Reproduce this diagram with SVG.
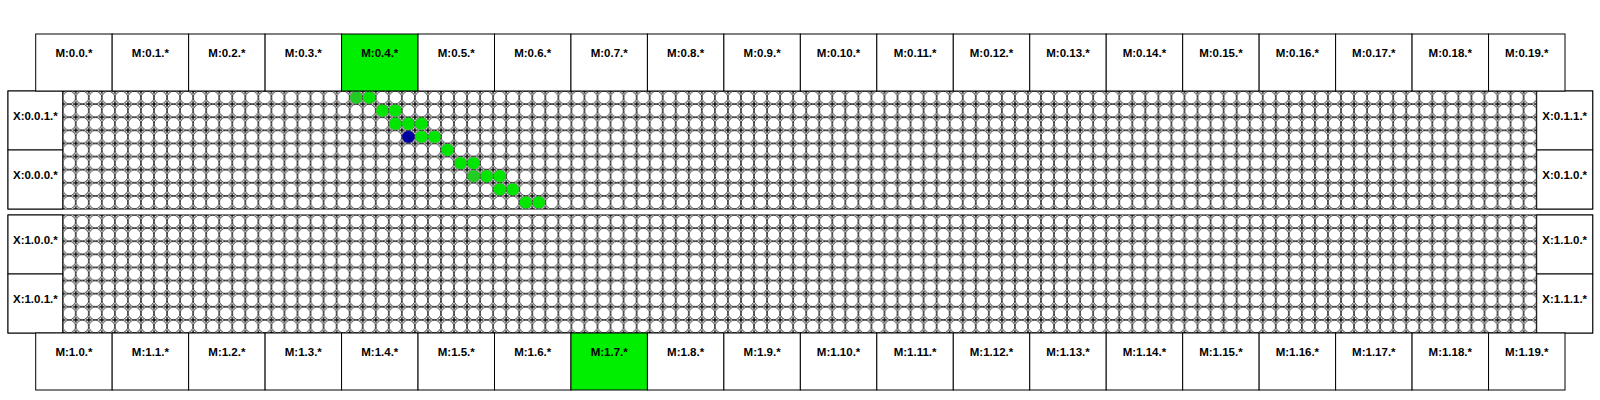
<svg xmlns="http://www.w3.org/2000/svg" width="1600" height="400" viewBox="0 0 1600 400">
<defs>
<style>
.box{fill:#ffffff;stroke:#000000;stroke-width:1}
.hot{fill:#00ee00;stroke:#000000;stroke-width:1}
.lbl{font-family:"Liberation Sans",Arial,sans-serif;font-size:11.5px;font-weight:bold;fill:#000000;text-anchor:middle}
.g{fill:#00e600;stroke:none}
.gd{fill:#22cc22;stroke:none}
.b{fill:#0000a0;stroke:none}
</style>
<pattern id="cellsTop" patternUnits="userSpaceOnUse" x="62.7" y="91" width="13.044" height="13.111">
<rect width="13.044" height="13.111" fill="#ffffff"/>
<circle cx="6.522" cy="6.556" r="6.4" fill="#ffffff" stroke="#000000" stroke-width="0.8"/>
<path d="M0,0H2.6M0,0V2.6M13.044,0H10.444M13.044,0V2.6M0,13.111H2.6M0,13.111V10.511M13.044,13.111H10.444M13.044,13.111V10.511" stroke="#000000" stroke-width="1.4" fill="none"/>
</pattern>
<pattern id="cellsBot" patternUnits="userSpaceOnUse" x="62.7" y="215" width="13.044" height="13.111">
<rect width="13.044" height="13.111" fill="#ffffff"/>
<circle cx="6.522" cy="6.556" r="6.4" fill="#ffffff" stroke="#000000" stroke-width="0.8"/>
<path d="M0,0H2.6M0,0V2.6M13.044,0H10.444M13.044,0V2.6M0,13.111H2.6M0,13.111V10.511M13.044,13.111H10.444M13.044,13.111V10.511" stroke="#000000" stroke-width="1.4" fill="none"/>
</pattern>
</defs>
<rect width="1600" height="400" fill="#ffffff"/>

<g id="panel0">
<rect class="box" x="8" y="91" width="1584.7" height="118"/>
<rect x="62.7" y="91" width="1474" height="118" fill="url(#cellsTop)"/>
<g id="X-0-0-1"><rect class="box" x="8" y="91" width="54.7" height="59"/><text class="lbl" x="35.35" y="120">X:0.0.1.*</text></g>
<g id="X-0-0-0"><rect class="box" x="8" y="150" width="54.7" height="59"/><text class="lbl" x="35.35" y="179">X:0.0.0.*</text></g>
<g id="X-0-1-1"><rect class="box" x="1536.7" y="91" width="56" height="59"/><text class="lbl" x="1564.7" y="120">X:0.1.1.*</text></g>
<g id="X-0-1-0"><rect class="box" x="1536.7" y="150" width="56" height="59"/><text class="lbl" x="1564.7" y="179">X:0.1.0.*</text></g>
<g id="path0">
<circle class="gd" cx="356.19" cy="97.56" r="6.2"/>
<circle class="g" cx="369.24" cy="97.56" r="6.2"/>
<circle class="g" cx="382.28" cy="110.67" r="6.2"/>
<circle class="g" cx="395.32" cy="110.67" r="6.2"/>
<circle class="g" cx="395.32" cy="123.78" r="6.2"/>
<circle class="g" cx="408.37" cy="123.78" r="6.2"/>
<circle class="g" cx="421.41" cy="123.78" r="6.2"/>
<circle class="b" cx="408.37" cy="136.89" r="6.2"/>
<circle class="g" cx="421.41" cy="136.89" r="6.2"/>
<circle class="g" cx="434.46" cy="136.89" r="6.2"/>
<circle class="g" cx="447.50" cy="150.00" r="6.2"/>
<circle class="g" cx="460.54" cy="163.11" r="6.2"/>
<circle class="g" cx="473.59" cy="163.11" r="6.2"/>
<circle class="gd" cx="473.59" cy="176.22" r="6.2"/>
<circle class="g" cx="486.63" cy="176.22" r="6.2"/>
<circle class="g" cx="499.68" cy="176.22" r="6.2"/>
<circle class="g" cx="499.68" cy="189.33" r="6.2"/>
<circle class="g" cx="512.72" cy="189.33" r="6.2"/>
<circle class="g" cx="525.76" cy="202.44" r="6.2"/>
<circle class="g" cx="538.81" cy="202.44" r="6.2"/>
</g>
</g>

<g id="panel1">
<rect class="box" x="8" y="215" width="1584.7" height="118"/>
<rect x="62.7" y="215" width="1474" height="118" fill="url(#cellsBot)"/>
<g id="X-1-0-0"><rect class="box" x="8" y="215" width="54.7" height="59"/><text class="lbl" x="35.35" y="244">X:1.0.0.*</text></g>
<g id="X-1-0-1"><rect class="box" x="8" y="274" width="54.7" height="59"/><text class="lbl" x="35.35" y="303">X:1.0.1.*</text></g>
<g id="X-1-1-0"><rect class="box" x="1536.7" y="215" width="56" height="59"/><text class="lbl" x="1564.7" y="244">X:1.1.0.*</text></g>
<g id="X-1-1-1"><rect class="box" x="1536.7" y="274" width="56" height="59"/><text class="lbl" x="1564.7" y="303">X:1.1.1.*</text></g>
</g>

<g id="mem0">
<g id="M-0-0"><rect class="box" x="35.7" y="34" width="76.465" height="57"/><text class="lbl" x="73.93" y="56.5">M:0.0.*</text></g>
<g id="M-0-1"><rect class="box" x="112.17" y="34" width="76.465" height="57"/><text class="lbl" x="150.40" y="56.5">M:0.1.*</text></g>
<g id="M-0-2"><rect class="box" x="188.63" y="34" width="76.465" height="57"/><text class="lbl" x="226.86" y="56.5">M:0.2.*</text></g>
<g id="M-0-3"><rect class="box" x="265.10" y="34" width="76.465" height="57"/><text class="lbl" x="303.33" y="56.5">M:0.3.*</text></g>
<g id="M-0-4"><rect class="hot" x="341.56" y="34" width="76.465" height="57"/><text class="lbl" x="379.79" y="56.5">M:0.4.*</text></g>
<g id="M-0-5"><rect class="box" x="418.03" y="34" width="76.465" height="57"/><text class="lbl" x="456.26" y="56.5">M:0.5.*</text></g>
<g id="M-0-6"><rect class="box" x="494.49" y="34" width="76.465" height="57"/><text class="lbl" x="532.72" y="56.5">M:0.6.*</text></g>
<g id="M-0-7"><rect class="box" x="570.96" y="34" width="76.465" height="57"/><text class="lbl" x="609.19" y="56.5">M:0.7.*</text></g>
<g id="M-0-8"><rect class="box" x="647.42" y="34" width="76.465" height="57"/><text class="lbl" x="685.65" y="56.5">M:0.8.*</text></g>
<g id="M-0-9"><rect class="box" x="723.89" y="34" width="76.465" height="57"/><text class="lbl" x="762.12" y="56.5">M:0.9.*</text></g>
<g id="M-0-10"><rect class="box" x="800.35" y="34" width="76.465" height="57"/><text class="lbl" x="838.58" y="56.5">M:0.10.*</text></g>
<g id="M-0-11"><rect class="box" x="876.82" y="34" width="76.465" height="57"/><text class="lbl" x="915.05" y="56.5">M:0.11.*</text></g>
<g id="M-0-12"><rect class="box" x="953.28" y="34" width="76.465" height="57"/><text class="lbl" x="991.51" y="56.5">M:0.12.*</text></g>
<g id="M-0-13"><rect class="box" x="1029.75" y="34" width="76.465" height="57"/><text class="lbl" x="1067.98" y="56.5">M:0.13.*</text></g>
<g id="M-0-14"><rect class="box" x="1106.21" y="34" width="76.465" height="57"/><text class="lbl" x="1144.44" y="56.5">M:0.14.*</text></g>
<g id="M-0-15"><rect class="box" x="1182.68" y="34" width="76.465" height="57"/><text class="lbl" x="1220.91" y="56.5">M:0.15.*</text></g>
<g id="M-0-16"><rect class="box" x="1259.14" y="34" width="76.465" height="57"/><text class="lbl" x="1297.37" y="56.5">M:0.16.*</text></g>
<g id="M-0-17"><rect class="box" x="1335.61" y="34" width="76.465" height="57"/><text class="lbl" x="1373.84" y="56.5">M:0.17.*</text></g>
<g id="M-0-18"><rect class="box" x="1412.07" y="34" width="76.465" height="57"/><text class="lbl" x="1450.30" y="56.5">M:0.18.*</text></g>
<g id="M-0-19"><rect class="box" x="1488.54" y="34" width="76.465" height="57"/><text class="lbl" x="1526.77" y="56.5">M:0.19.*</text></g>
</g>

<g id="mem1">
<g id="M-1-0"><rect class="box" x="35.7" y="333" width="76.465" height="57"/><text class="lbl" x="73.93" y="355.5">M:1.0.*</text></g>
<g id="M-1-1"><rect class="box" x="112.17" y="333" width="76.465" height="57"/><text class="lbl" x="150.40" y="355.5">M:1.1.*</text></g>
<g id="M-1-2"><rect class="box" x="188.63" y="333" width="76.465" height="57"/><text class="lbl" x="226.86" y="355.5">M:1.2.*</text></g>
<g id="M-1-3"><rect class="box" x="265.10" y="333" width="76.465" height="57"/><text class="lbl" x="303.33" y="355.5">M:1.3.*</text></g>
<g id="M-1-4"><rect class="box" x="341.56" y="333" width="76.465" height="57"/><text class="lbl" x="379.79" y="355.5">M:1.4.*</text></g>
<g id="M-1-5"><rect class="box" x="418.03" y="333" width="76.465" height="57"/><text class="lbl" x="456.26" y="355.5">M:1.5.*</text></g>
<g id="M-1-6"><rect class="box" x="494.49" y="333" width="76.465" height="57"/><text class="lbl" x="532.72" y="355.5">M:1.6.*</text></g>
<g id="M-1-7"><rect class="hot" x="570.96" y="333" width="76.465" height="57"/><text class="lbl" x="609.19" y="355.5">M:1.7.*</text></g>
<g id="M-1-8"><rect class="box" x="647.42" y="333" width="76.465" height="57"/><text class="lbl" x="685.65" y="355.5">M:1.8.*</text></g>
<g id="M-1-9"><rect class="box" x="723.89" y="333" width="76.465" height="57"/><text class="lbl" x="762.12" y="355.5">M:1.9.*</text></g>
<g id="M-1-10"><rect class="box" x="800.35" y="333" width="76.465" height="57"/><text class="lbl" x="838.58" y="355.5">M:1.10.*</text></g>
<g id="M-1-11"><rect class="box" x="876.82" y="333" width="76.465" height="57"/><text class="lbl" x="915.05" y="355.5">M:1.11.*</text></g>
<g id="M-1-12"><rect class="box" x="953.28" y="333" width="76.465" height="57"/><text class="lbl" x="991.51" y="355.5">M:1.12.*</text></g>
<g id="M-1-13"><rect class="box" x="1029.75" y="333" width="76.465" height="57"/><text class="lbl" x="1067.98" y="355.5">M:1.13.*</text></g>
<g id="M-1-14"><rect class="box" x="1106.21" y="333" width="76.465" height="57"/><text class="lbl" x="1144.44" y="355.5">M:1.14.*</text></g>
<g id="M-1-15"><rect class="box" x="1182.68" y="333" width="76.465" height="57"/><text class="lbl" x="1220.91" y="355.5">M:1.15.*</text></g>
<g id="M-1-16"><rect class="box" x="1259.14" y="333" width="76.465" height="57"/><text class="lbl" x="1297.37" y="355.5">M:1.16.*</text></g>
<g id="M-1-17"><rect class="box" x="1335.61" y="333" width="76.465" height="57"/><text class="lbl" x="1373.84" y="355.5">M:1.17.*</text></g>
<g id="M-1-18"><rect class="box" x="1412.07" y="333" width="76.465" height="57"/><text class="lbl" x="1450.30" y="355.5">M:1.18.*</text></g>
<g id="M-1-19"><rect class="box" x="1488.54" y="333" width="76.465" height="57"/><text class="lbl" x="1526.77" y="355.5">M:1.19.*</text></g>
</g>
<g id="connectors"/>
</svg>
